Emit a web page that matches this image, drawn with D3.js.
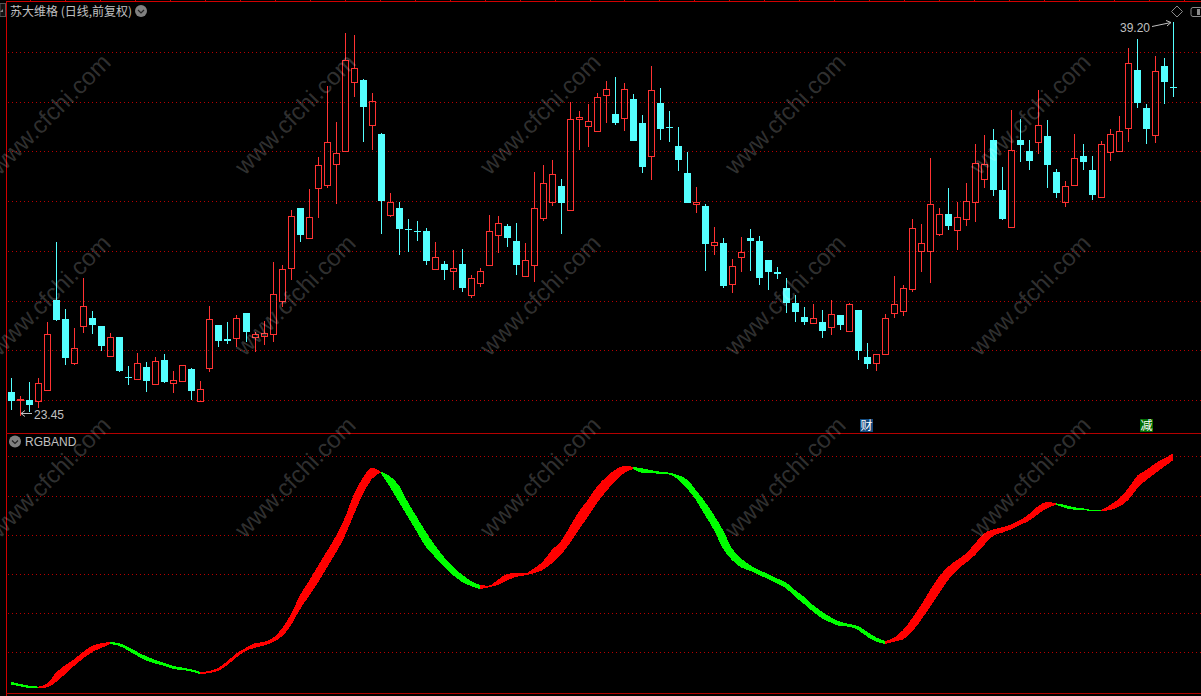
<!DOCTYPE html>
<html><head><meta charset="utf-8">
<script src="https://cdn.jsdelivr.net/npm/d3@7/dist/d3.min.js"></script>
<style>html,body{margin:0;padding:0;background:#000;overflow:hidden}svg{display:block}</style>
</head><body><svg id="c" width="1201" height="696"></svg>
<script>
const title = "苏大维格 (日线,前复权)";
const indicatorName = "RGBAND";
const watermarkText = "www.cfchi.com";
const highLabel = "39.20", lowLabel = "23.45";

const highs = [24.96,24.24,24.80,24.96,27.20,30.40,27.72,26.96,28.96,27.64,27.04,26.76,26.60,25.44,25.96,25.60,25.80,25.92,25.24,25.48,25.36,24.84,27.84,27.08,27.20,27.48,27.56,26.80,27.24,29.60,29.48,31.68,31.76,32.52,33.80,36.64,35.20,38.76,38.68,36.92,36.36,34.76,32.36,32.00,31.32,31.24,30.96,30.40,29.64,30.08,30.12,29.08,29.36,31.48,31.44,31.12,31.16,30.36,33.20,33.48,33.68,32.92,36.00,35.64,35.92,36.36,36.84,37.00,36.76,36.32,35.48,37.44,36.56,35.64,35.00,34.00,32.60,31.92,31.00,30.56,29.72,30.60,30.92,30.64,29.68,29.40,28.96,28.28,27.80,27.92,27.68,28.08,27.48,27.96,27.68,26.36,25.92,27.52,29.04,28.68,31.32,31.12,33.76,31.76,32.56,32.00,32.76,34.32,34.68,34.92,33.40,35.68,35.32,34.48,36.48,35.28,33.32,32.84,34.72,34.32,33.84,34.44,34.92,35.44,38.16,38.52,35.92,37.84,37.76,39.20];
const lows = [23.68,23.45,23.60,23.76,24.49,27.24,25.48,25.48,26.76,26.72,26.04,25.84,25.20,24.68,24.92,24.40,24.72,24.76,24.36,24.81,24.08,24.04,25.20,26.20,26.32,26.20,26.40,26.00,26.28,26.40,27.80,28.88,30.41,30.55,31.36,32.57,31.92,34.03,36.20,34.40,34.08,30.72,31.40,29.88,30.00,30.44,29.48,29.32,28.88,28.48,28.40,28.16,28.60,29.48,29.96,30.20,29.08,29.05,28.80,31.24,31.84,30.72,31.69,34.08,34.20,34.84,35.16,35.08,34.84,34.44,33.16,32.88,34.48,34.40,33.24,31.96,31.56,29.24,29.88,28.56,28.36,29.20,29.24,28.68,28.48,28.92,27.56,27.20,27.08,27.12,26.56,26.68,26.88,26.85,25.68,25.32,25.24,25.93,27.36,27.44,28.40,29.20,28.76,30.64,30.88,30.08,31.04,31.20,32.56,32.24,31.28,31.01,33.60,33.28,33.92,32.56,32.16,31.80,32.67,33.28,32.08,32.21,33.64,34.04,34.40,35.76,34.32,34.36,35.92,36.20];
const opens = [24.40,24.07,24.08,24.05,24.49,28.08,27.32,25.57,27.05,27.36,27.04,25.84,26.60,25.00,24.92,25.40,24.72,25.68,24.77,24.84,25.32,24.04,25.36,27.08,26.52,26.57,27.56,26.60,26.65,26.73,28.05,29.35,31.76,30.55,32.55,32.67,33.51,34.03,36.79,36.88,35.07,34.72,31.49,31.76,30.92,30.84,30.84,29.33,29.52,29.25,29.52,28.29,28.77,29.49,30.69,31.04,30.44,29.05,29.49,31.37,32.01,32.64,31.69,35.31,35.03,34.85,36.27,35.52,35.37,36.12,35.16,33.85,35.96,35.00,34.24,33.16,31.93,31.84,30.29,30.36,28.73,29.81,30.56,30.44,29.68,29.20,28.56,27.96,27.40,27.17,27.20,27.01,27.48,26.85,27.68,25.80,25.57,25.93,27.57,27.65,28.53,30.05,30.05,30.73,31.52,30.89,31.33,31.99,32.93,34.48,32.48,31.01,34.48,34.04,34.41,34.64,33.20,32.01,32.69,33.84,33.28,32.21,34.01,34.04,34.97,37.28,35.76,34.69,37.44,36.60];
const closes = [24.04,24.11,23.88,24.75,26.71,27.28,25.76,26.15,27.83,27.08,26.24,26.60,25.24,24.97,25.55,24.84,25.64,24.80,24.87,25.48,24.44,24.51,27.32,26.44,26.45,27.36,26.80,26.71,26.75,28.32,29.31,31.44,30.68,31.39,33.47,34.39,33.95,37.67,37.35,35.81,36.03,32.04,32.00,30.92,30.88,30.80,29.64,29.79,29.28,29.35,28.56,28.95,29.23,30.83,31.15,30.56,29.48,29.67,31.75,32.75,33.11,31.96,35.31,35.39,35.23,36.19,36.51,35.16,36.51,34.44,33.40,36.47,34.92,34.96,33.68,31.96,32.00,30.32,30.40,28.64,29.43,29.99,30.44,28.96,29.20,29.13,27.96,27.60,27.20,27.35,26.84,27.51,27.08,27.91,26.04,25.52,25.91,27.35,27.91,28.55,30.95,30.35,31.91,31.51,31.04,31.39,32.03,33.55,33.51,32.48,31.32,34.07,34.28,33.64,35.07,33.48,32.36,32.63,33.75,33.60,32.28,34.31,34.71,34.83,37.55,35.96,34.92,37.23,36.80,36.56];

/* RGBAND ribbon: upper and lower edge of the band, read per bar, in indicator units */
const bandUpper = [214,208,203,200,210,243,265,283,305,323,330,334,330,319,304,291,280,271,262,257,252,244,247,257,277,300,316,330,334,345,373,415,472,515,560,605,650,705,775,825,857,845,832,805,755,710,665,625,590,560,537,518,505,503,520,538,541,540,555,575,610,635,680,725,760,800,828,850,862,860,855,850,845,842,835,822,790,755,715,670,615,585,565,550,538,525,513,490,470,445,425,408,395,388,382,365,348,337,347,370,405,445,490,530,560,580,600,630,660,672,678,687,700,718,742,754,750,745,738,735,730,730,745,765,795,833,850,870,885,900];
const bandLower = [206,201,196,195,198,215,238,263,285,304,316,328,322,308,292,278,269,262,253,250,245,237,241,248,265,288,307,316,323,333,350,382,430,470,510,555,600,650,715,775,822,842,800,755,710,665,620,590,560,535,515,502,493,498,505,518,529,534,540,550,570,595,630,670,710,750,785,815,840,853,842,840,839,837,822,795,760,715,670,615,580,558,548,535,523,510,495,470,448,425,405,392,382,380,370,350,335,328,335,342,365,400,440,480,520,550,572,595,625,652,662,672,685,698,718,735,746,736,731,730,727,727,730,740,760,795,820,840,860,880];

const tickCount = 34;

const svg = d3.select("#c");
const x = d3.scaleLinear().domain([0, highs.length - 1]).range([11.3, 1173.3]);
const y = d3.scaleLinear().domain([39.2, 23.45]).range([22, 415.75]);
const yb = d3.scaleLinear().domain([1000, 160]).range([420, 700]);

const RED = "#ff3232", CYAN = "#54ffff", FRAME = "#b40000", GRID = "#b80000", TXT = "#c0c0c0";
const crisp = g => g.attr("shape-rendering", "crispEdges");

svg.append("rect").attr("width", 1201).attr("height", 696).attr("fill", "#000");

const topGrid = d3.range(8).map(i => y.invert(52 + i * 49.72));
const botGrid = d3.range(6).map(i => yb.invert(456.4 + i * 39.2));
const gridG = svg.append("g").call(crisp).attr("stroke", GRID).attr("stroke-dasharray", "1 3");
gridG.selectAll(".t").data(topGrid).join("line").attr("x1", 8).attr("x2", 1201)
  .attr("y1", d => Math.round(y(d)) + .5).attr("y2", d => Math.round(y(d)) + .5);
gridG.selectAll(".b").data(botGrid).join("line").attr("x1", 8).attr("x2", 1201)
  .attr("y1", d => Math.round(yb(d)) + .5).attr("y2", d => Math.round(yb(d)) + .5);

/* frame */
const frame = svg.append("g").call(crisp).attr("stroke", FRAME).attr("fill", "none");
frame.append("line").attr("x1", 6.5).attr("x2", 6.5).attr("y1", 1).attr("y2", 696).attr("stroke", "#d00000");
frame.append("line").attr("x1", 6).attr("x2", 1201).attr("y1", 1.5).attr("y2", 1.5).attr("stroke", "#d00000");
frame.append("line").attr("x1", 6).attr("x2", 1201).attr("y1", 433.5).attr("y2", 433.5);
frame.append("line").attr("x1", 6).attr("x2", 1201).attr("y1", 693.5).attr("y2", 693.5);
frame.selectAll(".tick").data(d3.range(tickCount)).join("line")
  .attr("x1", i => Math.round(30 + i * 34.97) + .5).attr("x2", i => Math.round(30 + i * 34.97) + .5)
  .attr("y1", 0).attr("y2", 1).attr("stroke", "#d00000");

/* candles */
const cols = highs.map((h, i) => closes[i] >= opens[i] ? RED : CYAN);
const cg = svg.append("g").call(crisp);
const cand = cg.selectAll("g").data(highs.map((h, i) => i)).join("g");
cand.each(function (i) {
  const g = d3.select(this), c = cols[i], cx = Math.round(x(i)) + .5;
  const top = Math.round(y(Math.max(opens[i], closes[i])));
  const bot = Math.round(y(Math.min(opens[i], closes[i])));
  const hi = Math.round(y(highs[i])), lo = Math.round(y(lows[i]));
  g.append("line").attr("x1", cx).attr("x2", cx).attr("y1", hi).attr("y2", top).attr("stroke", c);
  g.append("line").attr("x1", cx).attr("x2", cx).attr("y1", bot).attr("y2", lo).attr("stroke", c);
  if (c === RED) {
    g.append("rect").attr("x", cx - 3).attr("y", top + .5).attr("width", 6)
      .attr("height", Math.max(1, bot - top)).attr("fill", "none").attr("stroke", c);
  } else {
    g.append("rect").attr("x", cx - 3.5).attr("y", top).attr("width", 7)
      .attr("height", Math.max(1, bot - top)).attr("fill", c);
  }
});

/* RGBAND ribbon: red while the band rises, green while it falls */
const mid = bandUpper.map((u, i) => (u + bandLower[i]) / 2);
const rising = mid.map((m, i) => i < mid.length - 1 && mid[i + 1] > m);
rising[mid.length - 1] = rising[mid.length - 2];
const runs = [];
rising.slice(0, -1).forEach((r, i) => {
  if (!runs.length || runs[runs.length - 1].r !== r) runs.push({ r, idx: [i] });
  runs[runs.length - 1].idx.push(i + 1);
});
const area = d3.area().x(i => x(i)).y0(i => yb(bandLower[i])).y1(i => yb(bandUpper[i])).curve(d3.curveMonotoneX);
svg.append("g").call(crisp).selectAll("path").data(runs).join("path")
  .attr("d", d => area(d.idx)).attr("fill", d => d.r ? "#ff0000" : "#00ff00");

/* watermark */
const wm = svg.append("g").attr("font-family", "Liberation Sans, Arial, sans-serif")
  .attr("font-size", 24).attr("fill", "#fff").attr("fill-opacity", .2).attr("text-anchor", "middle");
[114, 295, 477].forEach(cy => d3.range(5).forEach(k => {
  const cx = 50 + k * 245;
  wm.append("text").attr("transform", `translate(${cx},${cy}) rotate(-45)`).attr("dy", "0.35em").text(watermarkText);
}));

/* texts */
const cjk = "Noto Sans CJK SC, sans-serif", latin = "Liberation Sans, Arial, sans-serif";
svg.append("text").attr("x", 10).attr("y", 16).attr("font-family", cjk).attr("font-size", 12)
  .attr("fill", TXT).text(title);
svg.append("text").attr("x", 25).attr("y", 445.5).attr("font-family", latin).attr("font-size", 12)
  .attr("fill", TXT).text(indicatorName);
svg.append("text").attr("x", 34).attr("y", 419).attr("font-family", latin).attr("font-size", 12)
  .attr("fill", TXT).text(lowLabel);
svg.append("text").attr("x", 1120).attr("y", 32).attr("font-family", latin).attr("font-size", 12)
  .attr("fill", TXT).text(highLabel);

/* arrows to high and low */
const ar = svg.append("g").attr("stroke", TXT).attr("fill", "none");
ar.append("path").attr("d", "M32,413.5H21M25,410.5L21,413.5L25,416.5");
ar.append("path").attr("d", "M1152,26.5L1171,22.5M1166,20.5L1171,22.5L1167,26");

/* small icons */
function chevronBadge(cx, cy) {
  svg.append("circle").attr("cx", cx).attr("cy", cy).attr("r", 6).attr("fill", "#808080");
  svg.append("path").attr("d", `M${cx - 3},${cy - 1}L${cx},${cy + 2}L${cx + 3},${cy - 1}`)
    .attr("stroke", "#222").attr("stroke-width", 1.2).attr("fill", "none");
}
chevronBadge(141, 11);
chevronBadge(15, 441.5);
const ic = svg.append("g").attr("fill", "none").attr("stroke", "#8a8a8a");
ic.append("path").attr("d", "M1177,6L1182.5,11.5L1177,17L1171.5,11.5Z");
ic.append("rect").attr("x", 1191).attr("y", 7.5).attr("width", 11).attr("height", 9).attr("rx", 2);
svg.append("rect").attr("x", 1197).attr("y", 9).attr("width", 3).attr("height", 6).attr("fill", "#8a8a8a");
svg.append("rect").attr("x", 0).attr("y", 3.5).attr("width", 5.5).attr("height", 13).attr("fill", "#111").attr("stroke", "#555");
svg.append("path").attr("d", "M0,12L3,9L3,12Z").attr("fill", "#888");

/* event badges */
[["财", 866, "#134a7e"], ["减", 1146, "#006c00"]].forEach(([t, cx, c]) => {
  svg.append("rect").attr("x", cx - 6).attr("y", 419).attr("width", 13).attr("height", 13).attr("fill", c);
  svg.append("text").attr("x", cx + .5).attr("y", 430).attr("text-anchor", "middle")
    .attr("font-family", cjk).attr("font-size", 12).attr("fill", "#fff").text(t);
});
</script></body></html>
